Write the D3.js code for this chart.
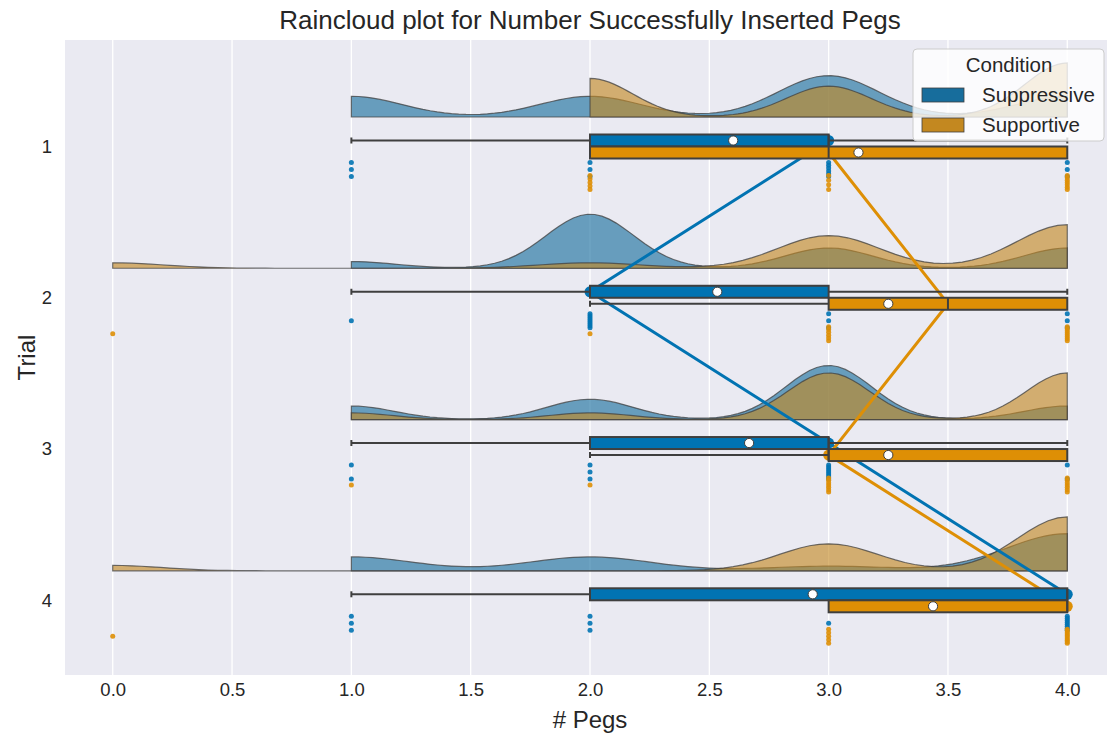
<!DOCTYPE html>
<html>
<head>
<meta charset="utf-8">
<script src="https://cdn.jsdelivr.net/npm/d3@7"></script>
<style>
  html, body { margin: 0; padding: 0; background: #ffffff; overflow: hidden; }
  svg { display: block; font-family: "Liberation Sans", Arial, sans-serif; }
</style>
</head>
<body>
<svg id="chart" width="1107" height="734"></svg>
<script>
// Number of pegs successfully inserted, per trial and condition.
// Each row holds how many participants scored 0, 1, 2, 3 and 4 pegs.
const trials = ["1", "2", "3", "4"];
const pegValues = [0, 1, 2, 3, 4];
const conditions = ["Suppressive", "Supportive"];
const suppressiveCounts = [
  [0, 3, 3, 6, 3],
  [0, 1, 8, 3, 3],
  [0, 2, 3, 8, 2],
  [0, 3, 3, 1, 8]
];
const supportiveCounts = [
  [0, 0, 5, 4, 7],
  [1, 0, 1, 6, 8],
  [0, 1, 1, 7, 7],
  [1, 0, 0, 5, 10]
];
const xTicks = [0, 0.5, 1, 1.5, 2, 2.5, 3, 3.5, 4];

const boxColors = { Suppressive: "#0173b2", Supportive: "#de8f05" };
const cloudColors = { Suppressive: "#176d9c", Supportive: "#c38820" };
const edge = "#3f3f3f";

const svg = d3.select("#chart");
// The axes run slightly past the right edge of the figure canvas.
const plot = { left: 65, right: 1115, top: 40, bottom: 675 };
const plotMid = (plot.left + plot.right) / 2;

const x = d3.scaleLinear().domain([-0.2, 4.2]).range([plot.left, plot.right]);
const y = d3.scalePoint().domain(trials).range([146.5, 600.3]);

// Expand the counts into one value per participant.
function expand(counts) {
  const out = [];
  counts.forEach((c, i) => { for (let k = 0; k < c; k++) out.push(pegValues[i]); });
  return out;
}
const dataBy = {
  Suppressive: suppressiveCounts.map(expand),
  Supportive: supportiveCounts.map(expand)
};

// Background and vertical grid
svg.append("rect")
  .attr("x", plot.left).attr("y", plot.top)
  .attr("width", plot.right - plot.left).attr("height", plot.bottom - plot.top)
  .attr("fill", "#eaeaf2");
svg.append("g").selectAll("line").data(xTicks).join("line")
  .attr("x1", d => x(d)).attr("x2", d => x(d))
  .attr("y1", plot.top).attr("y2", plot.bottom)
  .attr("stroke", "#ffffff").attr("stroke-width", 1.3);

// Half-violin "clouds": Gaussian KDE, bandwidth 0.2 * sd, cut at data range
const cloudHeight = 54, cloudShift = -29.5;
function kde(values) {
  const sd = 0.2 * d3.deviation(values);
  const lo = d3.min(values), hi = d3.max(values);
  const pts = d3.range(0, 101).map(i => lo + (hi - lo) * i / 100);
  return pts.map(v => ({
    v,
    d: d3.mean(values, xi => Math.exp(-0.5 * ((v - xi) / sd) ** 2)) / (sd * Math.sqrt(2 * Math.PI))
  }));
}
const cloudLayer = svg.append("g");
trials.forEach((t, ti) => {
  const dens = conditions.map(c => kde(dataBy[c][ti]));
  const maxD = d3.max(dens, arr => d3.max(arr, p => p.d));
  const base = y(t) + cloudShift;
  const hScale = d3.scaleLinear().domain([0, maxD]).range([0, cloudHeight]);
  conditions.forEach((c, ci) => {
    const area = d3.area()
      .x(p => x(p.v))
      .y0(base)
      .y1(p => base - hScale(p.d));
    cloudLayer.append("path")
      .attr("d", area(dens[ci]))
      .attr("fill", cloudColors[c]).attr("fill-opacity", 0.62)
      .attr("stroke", "#404040").attr("stroke-opacity", 0.75).attr("stroke-width", 1.2);
  });
});

// Rain: one dot per participant, spread evenly across a small strip
const rainOffset = { Suppressive: 23, Supportive: 36 };
const rainSpread = 7;
const rainLayer = svg.append("g");
trials.forEach((t, ti) => {
  conditions.forEach(c => {
    const counts = (c === "Suppressive" ? suppressiveCounts : supportiveCounts)[ti];
    counts.forEach((k, vi) => {
      for (let j = 0; j < k; j++) {
        const off = k === 1 ? 0 : -rainSpread + 2 * rainSpread * j / (k - 1);
        rainLayer.append("circle")
          .attr("cx", x(pegValues[vi]))
          .attr("cy", y(t) + rainOffset[c] + off)
          .attr("r", 2.5)
          .attr("fill", boxColors[c])
          .attr("fill-opacity", 0.9);
      }
    });
  });
});

// Median lines across trials
const dodge = { Suppressive: -6, Supportive: 6 };
const lineLayer = svg.append("g");
conditions.forEach(c => {
  const pts = trials.map((t, ti) => [x(d3.median(dataBy[c][ti])), y(t) + dodge[c]]);
  lineLayer.append("path")
    .attr("d", d3.line()(pts))
    .attr("fill", "none").attr("stroke", boxColors[c]).attr("stroke-width", 3);
  lineLayer.selectAll(null).data(pts).join("circle")
    .attr("cx", d => d[0]).attr("cy", d => d[1]).attr("r", 5.5)
    .attr("fill", boxColors[c]);
});

// Box plots with 1.5 IQR whiskers and mean markers
const boxH = 12;
const boxLayer = svg.append("g");
trials.forEach((t, ti) => {
  conditions.forEach(c => {
    const vals = dataBy[c][ti].slice().sort(d3.ascending);
    const q1 = d3.quantile(vals, 0.25), med = d3.quantile(vals, 0.5), q3 = d3.quantile(vals, 0.75);
    const iqr = q3 - q1;
    const wLo = d3.min(vals.filter(v => v >= q1 - 1.5 * iqr));
    const wHi = d3.max(vals.filter(v => v <= q3 + 1.5 * iqr));
    const mean = d3.mean(vals);
    const top = c === "Suppressive" ? y(t) - boxH : y(t);
    const cy = top + boxH / 2;
    const g = boxLayer.append("g");
    [[wLo, q1], [q3, wHi]].forEach(([a, b]) => {
      if (a === b) return;
      g.append("line").attr("x1", x(a)).attr("x2", x(b)).attr("y1", cy).attr("y2", cy)
        .attr("stroke", edge).attr("stroke-width", 2);
    });
    [wLo, wHi].forEach(v => {
      if (v === q1 || v === q3) return;
      g.append("line").attr("x1", x(v)).attr("x2", x(v)).attr("y1", cy - 3).attr("y2", cy + 3)
        .attr("stroke", edge).attr("stroke-width", 2);
    });
    g.append("rect")
      .attr("x", x(q1)).attr("y", top)
      .attr("width", x(q3) - x(q1)).attr("height", boxH)
      .attr("fill", boxColors[c]).attr("stroke", edge).attr("stroke-width", 2);
    g.append("line").attr("x1", x(med)).attr("x2", x(med)).attr("y1", top).attr("y2", top + boxH)
      .attr("stroke", edge).attr("stroke-width", 2);
    g.append("circle").attr("cx", x(mean)).attr("cy", cy).attr("r", 4.6)
      .attr("fill", "#ffffff").attr("stroke", edge).attr("stroke-width", 1);
  });
});

// Axes
const xAxis = svg.append("g")
  .attr("transform", `translate(0,${plot.bottom})`)
  .call(d3.axisBottom(x).tickValues(xTicks).tickFormat(d3.format(".1f")).tickSize(0).tickPadding(8));
const yAxis = svg.append("g")
  .attr("transform", `translate(${plot.left},0)`)
  .call(d3.axisLeft(y).tickSize(0).tickPadding(13));
[xAxis, yAxis].forEach(a => {
  a.select(".domain").remove();
  a.selectAll("text").attr("font-size", 18.5).attr("fill", "#262626")
    .attr("font-family", "'Liberation Sans', Arial, sans-serif");
});

svg.append("text")
  .attr("x", plotMid).attr("y", 29)
  .attr("text-anchor", "middle").attr("font-size", 26).attr("fill", "#262626")
  .text("Raincloud plot for Number Successfully Inserted Pegs");
svg.append("text")
  .attr("x", plotMid).attr("y", 728)
  .attr("text-anchor", "middle").attr("font-size", 24).attr("fill", "#262626")
  .text("# Pegs");
svg.append("text")
  .attr("transform", `translate(35,${(plot.top + plot.bottom) / 2}) rotate(-90)`)
  .attr("text-anchor", "middle").attr("font-size", 24).attr("fill", "#262626")
  .text("Trial");

// Legend
const legend = svg.append("g");
legend.append("rect")
  .attr("x", 913).attr("y", 49).attr("width", 191).attr("height", 92).attr("rx", 4)
  .attr("fill", "#ffffff").attr("fill-opacity", 0.8)
  .attr("stroke", "#cccccc").attr("stroke-width", 1);
legend.append("text")
  .attr("x", 1009).attr("y", 72).attr("text-anchor", "middle")
  .attr("font-size", 20.5).attr("fill", "#262626").text("Condition");
conditions.forEach((c, i) => {
  const yy = 88 + i * 30;
  legend.append("rect")
    .attr("x", 922).attr("y", yy).attr("width", 42).attr("height", 14)
    .attr("fill", cloudColors[c]).attr("stroke", edge).attr("stroke-width", 0.8);
  legend.append("text")
    .attr("x", 982).attr("y", yy + 14)
    .attr("font-size", 20.5).attr("fill", "#262626").text(c);
});
</script>
</body>
</html>
